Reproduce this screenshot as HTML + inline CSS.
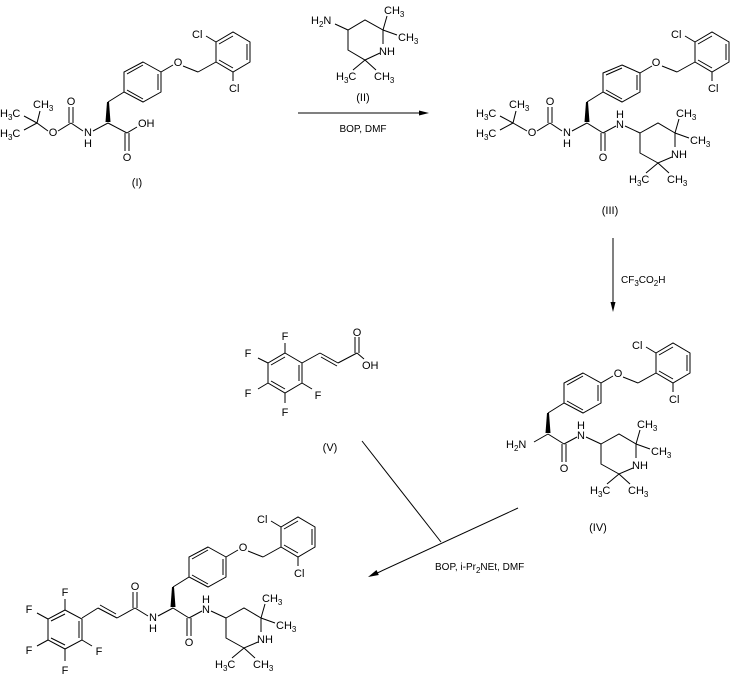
<!DOCTYPE html>
<html><head><meta charset="utf-8"><style>
html,body{margin:0;padding:0;background:#fff;}
svg{display:block;}
text{font-family:"Liberation Sans",sans-serif;font-size:11px;fill:#000;}
.s{font-size:8px;}
line,polyline,polygon.r{stroke:#000;stroke-width:1;fill:none;}
</style></head><body>
<svg width="739" height="683" viewBox="0 0 739 683" xmlns="http://www.w3.org/2000/svg">
<rect width="739" height="683" fill="#fff"/>

<!-- ================= (I) ================= -->
<g transform="translate(108,123)">
  <polygon class="r" points="35,-61 53,-51 53,-31 35,-21 16,-31 16,-51"/>
  <line x1="19" y1="-49" x2="35" y2="-58"/><line x1="50" y1="-49" x2="50" y2="-33"/><line x1="19" y1="-33" x2="35" y2="-24"/>
  <line x1="16" y1="-31" x2="0" y2="-21"/>
  <polygon points="-1,-21 1,-21 2.5,-1 -2.5,-1" fill="#000"/>
  <line x1="53" y1="-51" x2="65" y2="-58"/><text x="70" y="-57" text-anchor="middle">O</text>
  <line x1="75" y1="-57" x2="90" y2="-51"/><line x1="90" y1="-51" x2="108" y2="-61"/>
  <polygon class="r" points="108,-61 108,-81 125,-91 142,-81 142,-61 125,-51"/>
  <line x1="111" y1="-79" x2="125" y2="-87"/><line x1="139" y1="-79" x2="139" y2="-63"/><line x1="111" y1="-63" x2="125" y2="-55"/>
  <line x1="108" y1="-81" x2="98" y2="-87"/><text x="84" y="-85">Cl</text>
  <line x1="125" y1="-51" x2="125" y2="-42"/><text x="121" y="-31">Cl</text>
  <!-- acid -->
  <line x1="0" y1="0" x2="19" y2="10"/>
  <line x1="17" y1="10" x2="17" y2="28"/><line x1="21" y1="10" x2="21" y2="28"/>
  <text x="19" y="38" text-anchor="middle">O</text>
  <line x1="19" y1="10" x2="29" y2="4"/><text x="30" y="4">OH</text>
  <!-- Boc -->
  <line x1="0" y1="0" x2="-15" y2="8"/>
  <text x="-20" y="13" text-anchor="middle">N</text><text x="-20" y="24" text-anchor="middle">H</text>
  <line x1="-25" y1="8" x2="-37" y2="0"/>
  <line x1="-39" y1="0" x2="-39" y2="-16"/><line x1="-35" y1="0" x2="-35" y2="-16"/>
  <text x="-37" y="-18" text-anchor="middle">O</text>
  <line x1="-37" y1="0" x2="-50" y2="8"/><text x="-55" y="13" text-anchor="middle">O</text>
  <line x1="-60" y1="8" x2="-71" y2="0"/>
  <line x1="-71" y1="0" x2="-68" y2="-12"/><text x="-75" y="-15">CH<tspan class="s" dy="3">3</tspan></text>
  <line x1="-71" y1="0" x2="-84" y2="-7"/><text x="-108" y="-6">H<tspan class="s" dy="3">3</tspan><tspan dy="-3">C</tspan></text>
  <line x1="-71" y1="0" x2="-84" y2="7"/><text x="-108" y="14">H<tspan class="s" dy="3">3</tspan><tspan dy="-3">C</tspan></text>
</g>
<text x="137" y="186" text-anchor="middle">(I)</text>

<!-- ================= (II) reagent ================= -->
<text x="311" y="24">H<tspan class="s" dy="3">2</tspan><tspan dy="-3">N</tspan></text>
<polyline points="335,24 348,30 365,20 383,30 383,44"/>
<polyline points="380,53 365,60 348,50 348,30"/>
<text x="379" y="55">NH</text>
<line x1="383" y1="30" x2="387" y2="16"/><text x="384" y="14">CH<tspan class="s" dy="3">3</tspan></text>
<line x1="383" y1="30" x2="397" y2="35"/><text x="398" y="41">CH<tspan class="s" dy="3">3</tspan></text>
<line x1="365" y1="60" x2="353" y2="70"/><text x="336" y="80">H<tspan class="s" dy="3">3</tspan><tspan dy="-3">C</tspan></text>
<line x1="365" y1="60" x2="376" y2="70"/><text x="374" y="80">CH<tspan class="s" dy="3">3</tspan></text>
<text x="363" y="101" text-anchor="middle">(II)</text>
<line x1="298" y1="113" x2="424" y2="113"/>
<polygon points="429,113 419,110.5 419,115.5" fill="#000"/>
<text x="363" y="132" text-anchor="middle" style="font-size:10px">BOP, DMF</text>

<!-- ================= (III) ================= -->
<g transform="translate(587,123)">
  <polygon class="r" points="35,-58 53,-50 53,-31 35,-21 16,-31 16,-50"/>
  <line x1="19" y1="-48" x2="35" y2="-55"/><line x1="50" y1="-48" x2="50" y2="-33"/><line x1="19" y1="-33" x2="35" y2="-24"/>
  <line x1="16" y1="-31" x2="0" y2="-21"/>
  <polygon points="-1,-21 1,-21 2.5,-1 -2.5,-1" fill="#000"/>
  <line x1="53" y1="-50" x2="65" y2="-57"/><text x="69" y="-57" text-anchor="middle">O</text>
  <line x1="75" y1="-57" x2="90" y2="-51"/><line x1="90" y1="-51" x2="108" y2="-61"/>
  <polygon class="r" points="108,-61 108,-81 125,-91 142,-81 142,-61 125,-51"/>
  <line x1="111" y1="-79" x2="125" y2="-87"/><line x1="139" y1="-79" x2="139" y2="-63"/><line x1="111" y1="-63" x2="125" y2="-55"/>
  <line x1="108" y1="-81" x2="98" y2="-87"/><text x="84" y="-85">Cl</text>
  <line x1="125" y1="-51" x2="125" y2="-42"/><text x="121" y="-31">Cl</text>
  <!-- amide + piperidine -->
  <line x1="0" y1="0" x2="16" y2="10"/>
  <line x1="14" y1="10" x2="14" y2="28"/><line x1="18" y1="10" x2="18" y2="28"/>
  <text x="16" y="38" text-anchor="middle">O</text>
  <line x1="16" y1="10" x2="29" y2="3"/>
  <text x="33" y="5" text-anchor="middle">N</text><text x="33" y="-5" text-anchor="middle">H</text>
  <line x1="38" y1="3" x2="53" y2="10"/>
  <polyline points="53,10 71,0 88,10 88,24"/>
  <polyline points="85,34 71,40 53,30 53,10"/>
  <text x="84" y="35">NH</text>
  <line x1="88" y1="10" x2="92" y2="-4"/><text x="89" y="-6">CH<tspan class="s" dy="3">3</tspan></text>
  <line x1="88" y1="10" x2="102" y2="15"/><text x="103" y="21">CH<tspan class="s" dy="3">3</tspan></text>
  <line x1="71" y1="40" x2="59" y2="50"/><text x="42" y="60">H<tspan class="s" dy="3">3</tspan><tspan dy="-3">C</tspan></text>
  <line x1="71" y1="40" x2="82" y2="50"/><text x="80" y="60">CH<tspan class="s" dy="3">3</tspan></text>
  <!-- Boc -->
  <line x1="0" y1="0" x2="-15" y2="8"/>
  <text x="-20" y="13" text-anchor="middle">N</text><text x="-20" y="24" text-anchor="middle">H</text>
  <line x1="-25" y1="8" x2="-37" y2="0"/>
  <line x1="-39" y1="0" x2="-39" y2="-16"/><line x1="-35" y1="0" x2="-35" y2="-16"/>
  <text x="-37" y="-18" text-anchor="middle">O</text>
  <line x1="-37" y1="0" x2="-50" y2="8"/><text x="-55" y="13" text-anchor="middle">O</text>
  <line x1="-60" y1="8" x2="-74" y2="0"/>
  <line x1="-74" y1="0" x2="-71" y2="-12"/><text x="-78" y="-15">CH<tspan class="s" dy="3">3</tspan></text>
  <line x1="-74" y1="0" x2="-87" y2="-7"/><text x="-111" y="-6">H<tspan class="s" dy="3">3</tspan><tspan dy="-3">C</tspan></text>
  <line x1="-74" y1="0" x2="-87" y2="7"/><text x="-111" y="14">H<tspan class="s" dy="3">3</tspan><tspan dy="-3">C</tspan></text>
</g>
<text x="610" y="214" text-anchor="middle">(III)</text>

<!-- down arrow -->
<line x1="613" y1="238" x2="613" y2="306"/>
<polygon points="613,312 610.5,302 615.5,302" fill="#000"/>
<text x="621" y="283" style="font-size:10px">CF<tspan class="s" dy="3">3</tspan><tspan dy="-3">CO</tspan><tspan class="s" dy="3">2</tspan><tspan dy="-3">H</tspan></text>

<!-- ================= (IV) ================= -->
<g transform="translate(548,434)">
  <polygon class="r" points="35,-61 53,-51 53,-31 35,-21 16,-31 16,-51"/>
  <line x1="19" y1="-49" x2="35" y2="-58"/><line x1="50" y1="-49" x2="50" y2="-33"/><line x1="19" y1="-33" x2="35" y2="-24"/>
  <line x1="16" y1="-31" x2="0" y2="-21"/>
  <polygon points="-1,-21 1,-21 2.5,-1 -2.5,-1" fill="#000"/>
  <line x1="53" y1="-51" x2="65" y2="-58"/><text x="70" y="-57" text-anchor="middle">O</text>
  <line x1="75" y1="-57" x2="90" y2="-51"/><line x1="90" y1="-51" x2="108" y2="-61"/>
  <polygon class="r" points="108,-61 108,-81 125,-91 142,-81 142,-61 125,-51"/>
  <line x1="111" y1="-79" x2="125" y2="-87"/><line x1="139" y1="-79" x2="139" y2="-63"/><line x1="111" y1="-63" x2="125" y2="-55"/>
  <line x1="108" y1="-81" x2="98" y2="-87"/><text x="84" y="-85">Cl</text>
  <line x1="125" y1="-51" x2="125" y2="-42"/><text x="121" y="-31">Cl</text>
  <line x1="0" y1="0" x2="16" y2="10"/>
  <line x1="14" y1="10" x2="14" y2="28"/><line x1="18" y1="10" x2="18" y2="28"/>
  <text x="16" y="38" text-anchor="middle">O</text>
  <line x1="16" y1="10" x2="29" y2="3"/>
  <text x="33" y="5" text-anchor="middle">N</text><text x="33" y="-5" text-anchor="middle">H</text>
  <line x1="38" y1="3" x2="53" y2="10"/>
  <polyline points="53,10 71,0 88,10 88,24"/>
  <polyline points="85,34 71,40 53,30 53,10"/>
  <text x="84" y="35">NH</text>
  <line x1="88" y1="10" x2="92" y2="-4"/><text x="89" y="-6">CH<tspan class="s" dy="3">3</tspan></text>
  <line x1="88" y1="10" x2="102" y2="15"/><text x="103" y="21">CH<tspan class="s" dy="3">3</tspan></text>
  <line x1="71" y1="40" x2="59" y2="50"/><text x="42" y="60">H<tspan class="s" dy="3">3</tspan><tspan dy="-3">C</tspan></text>
  <line x1="71" y1="40" x2="82" y2="50"/><text x="80" y="60">CH<tspan class="s" dy="3">3</tspan></text>
  <line x1="0" y1="0" x2="-14" y2="8"/>
  <text x="-42" y="14">H<tspan class="s" dy="3">2</tspan><tspan dy="-3">N</tspan></text>
</g>
<text x="598" y="531" text-anchor="middle">(IV)</text>

<!-- ================= (V) ================= -->
<polygon class="r" points="285,353 302,363 302,383 285,393 268,383 268,363"/>
<line x1="299" y1="365" x2="299" y2="381"/><line x1="271" y1="365" x2="285" y2="357"/><line x1="271" y1="381" x2="285" y2="389"/>
<line x1="285" y1="353" x2="285" y2="343"/><text x="285" y="340" text-anchor="middle">F</text>
<line x1="268" y1="363" x2="258" y2="358"/><text x="248" y="357" text-anchor="middle">F</text>
<line x1="268" y1="383" x2="258" y2="389"/><text x="248" y="397" text-anchor="middle">F</text>
<line x1="285" y1="393" x2="285" y2="403"/><text x="285" y="416" text-anchor="middle">F</text>
<line x1="302" y1="383" x2="312" y2="389"/><text x="318" y="399" text-anchor="middle">F</text>
<line x1="302" y1="363" x2="320" y2="353"/>
<line x1="320" y1="353" x2="338" y2="363"/><line x1="321" y1="357" x2="337" y2="366"/>
<line x1="338" y1="363" x2="357" y2="353"/>
<line x1="355" y1="353" x2="355" y2="337"/><line x1="359" y1="353" x2="359" y2="337"/>
<text x="357" y="336" text-anchor="middle">O</text>
<line x1="357" y1="353" x2="364" y2="359"/><text x="362" y="369">OH</text>
<text x="330" y="451" text-anchor="middle">(V)</text>

<!-- convergent arrow -->
<line x1="362" y1="441" x2="441" y2="542"/>
<line x1="518" y1="508" x2="375" y2="574"/>
<polygon points="368,577 376.5,570 378.8,575" fill="#000"/>
<text x="435" y="570" style="font-size:10px">BOP, i-Pr<tspan class="s" dy="3">2</tspan><tspan dy="-3">NEt, DMF</tspan></text>

<!-- ================= final product ================= -->
<g transform="translate(173,608)">
  <polygon class="r" points="35,-61 53,-51 53,-31 35,-21 16,-31 16,-51"/>
  <line x1="19" y1="-49" x2="35" y2="-58"/><line x1="50" y1="-49" x2="50" y2="-33"/><line x1="19" y1="-33" x2="35" y2="-24"/>
  <line x1="16" y1="-31" x2="0" y2="-21"/>
  <polygon points="-1,-21 1,-21 2.5,-1 -2.5,-1" fill="#000"/>
  <line x1="53" y1="-51" x2="65" y2="-58"/><text x="70" y="-57" text-anchor="middle">O</text>
  <line x1="75" y1="-57" x2="90" y2="-51"/><line x1="90" y1="-51" x2="108" y2="-61"/>
  <polygon class="r" points="108,-61 108,-81 125,-91 142,-81 142,-61 125,-51"/>
  <line x1="111" y1="-79" x2="125" y2="-87"/><line x1="139" y1="-79" x2="139" y2="-63"/><line x1="111" y1="-63" x2="125" y2="-55"/>
  <line x1="108" y1="-81" x2="98" y2="-87"/><text x="84" y="-85">Cl</text>
  <line x1="125" y1="-51" x2="125" y2="-42"/><text x="121" y="-31">Cl</text>
  <line x1="0" y1="0" x2="16" y2="10"/>
  <line x1="14" y1="10" x2="14" y2="28"/><line x1="18" y1="10" x2="18" y2="28"/>
  <text x="16" y="38" text-anchor="middle">O</text>
  <line x1="16" y1="10" x2="29" y2="3"/>
  <text x="33" y="5" text-anchor="middle">N</text><text x="33" y="-5" text-anchor="middle">H</text>
  <line x1="38" y1="3" x2="53" y2="10"/>
  <polyline points="53,10 71,0 88,10 88,24"/>
  <polyline points="85,34 71,40 53,30 53,10"/>
  <text x="84" y="35">NH</text>
  <line x1="88" y1="10" x2="92" y2="-4"/><text x="89" y="-6">CH<tspan class="s" dy="3">3</tspan></text>
  <line x1="88" y1="10" x2="102" y2="15"/><text x="103" y="21">CH<tspan class="s" dy="3">3</tspan></text>
  <line x1="71" y1="40" x2="59" y2="50"/><text x="42" y="60">H<tspan class="s" dy="3">3</tspan><tspan dy="-3">C</tspan></text>
  <line x1="71" y1="40" x2="82" y2="50"/><text x="80" y="60">CH<tspan class="s" dy="3">3</tspan></text>
  <!-- cinnamoyl amide -->
  <line x1="0" y1="0" x2="-15" y2="8"/>
  <text x="-20" y="13" text-anchor="middle">N</text><text x="-20" y="24" text-anchor="middle">H</text>
  <line x1="-25" y1="8" x2="-38" y2="0"/>
  <line x1="-40" y1="0" x2="-40" y2="-16"/><line x1="-36" y1="0" x2="-36" y2="-16"/>
  <text x="-38" y="-18" text-anchor="middle">O</text>
  <line x1="-38" y1="0" x2="-56" y2="10"/>
  <line x1="-56" y1="10" x2="-75" y2="0"/><line x1="-57" y1="6" x2="-73" y2="-3"/>
  <line x1="-75" y1="0" x2="-91" y2="10"/>
</g>
<polygon class="r" points="65,610 82,619 82,640 65,649 48,640 48,619"/>
<line x1="79" y1="621" x2="79" y2="638"/><line x1="51" y1="621" x2="65" y2="614"/><line x1="51" y1="638" x2="65" y2="645"/>
<line x1="65" y1="610" x2="65" y2="599"/><text x="65" y="596" text-anchor="middle">F</text>
<line x1="48" y1="619" x2="37" y2="613"/><text x="29" y="613" text-anchor="middle">F</text>
<line x1="48" y1="640" x2="37" y2="646"/><text x="29" y="654" text-anchor="middle">F</text>
<line x1="65" y1="649" x2="65" y2="661"/><text x="65" y="674" text-anchor="middle">F</text>
<line x1="82" y1="640" x2="92" y2="646"/><text x="99" y="655" text-anchor="middle">F</text>
</svg>
</body></html>
